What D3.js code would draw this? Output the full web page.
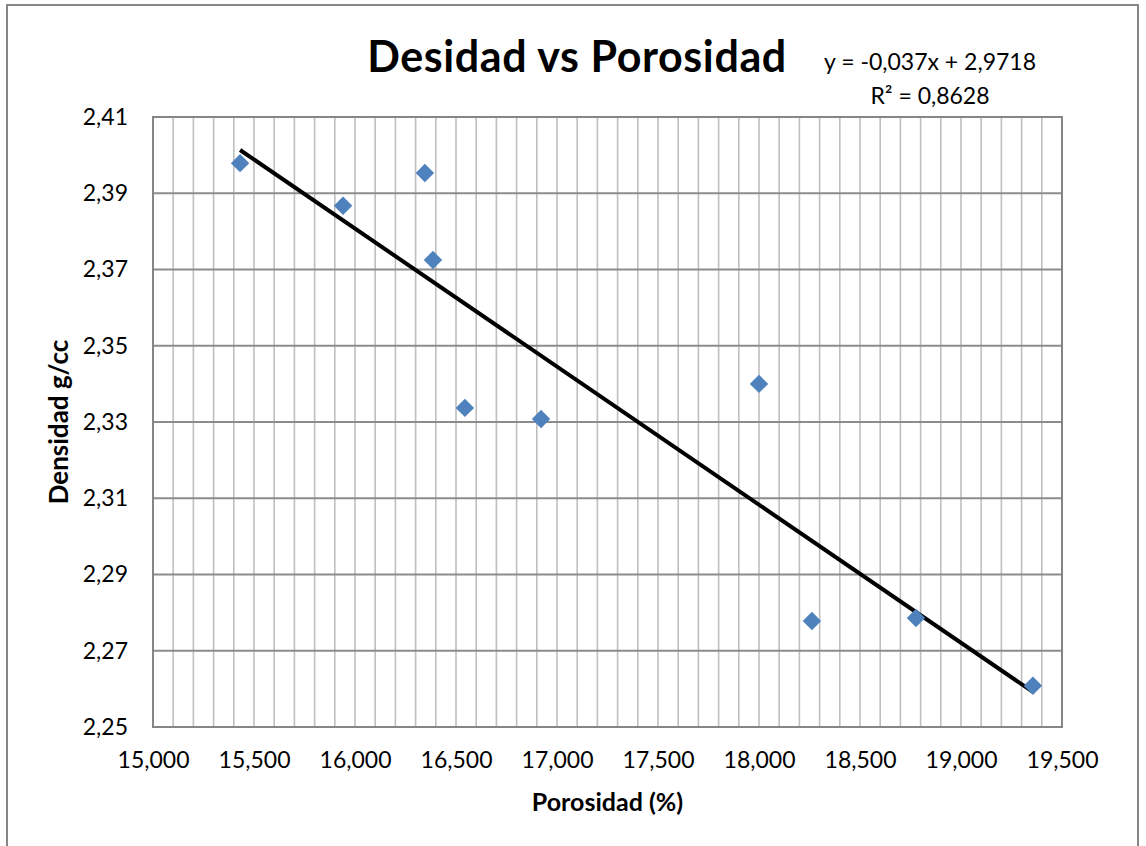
<!DOCTYPE html>
<html>
<head>
<meta charset="utf-8">
<script src="https://cdn.jsdelivr.net/npm/d3@7"></script>
<style>
  body { margin: 0; background: #fff; }
  svg { display: block; font-family: Lato, 'Open Sans', sans-serif; }
</style>
</head>
<body>
<svg id="container"></svg>
<script>
// porosidad (x) y densidad (y)
const porosidad = [15.431, 15.941, 16.346, 16.386, 16.544, 16.921, 18.0, 18.262, 18.777, 19.356]
const densidad = [2.3979, 2.3867, 2.3953, 2.3725, 2.3337, 2.3308, 2.340, 2.2778, 2.2786, 2.2608]

const xTicks = [15.0, 15.5, 16.0, 16.5, 17.0, 17.5, 18.0, 18.5, 19.0, 19.5]
const yTicks = [2.25, 2.27, 2.29, 2.31, 2.33, 2.35, 2.37, 2.39, 2.41]
const eqLines = ['y = -0,037x + 2,9718', 'R² = 0,8628']

const title = 'Desidad vs Porosidad'
const xTitle = 'Porosidad (%)'
const yTitle = 'Densidad g/cc'

const W = 1146,
  H = 846
const margin = { top: 117, right: 84, bottom: 119, left: 153 },
  w = W - margin.left - margin.right,
  h = H - margin.top - margin.bottom

const loc = d3.formatLocale({ decimal: ',', thousands: '.', grouping: [3], currency: ['', ''] })
const fx = loc.format('.3f'),
  fy = loc.format('.2f')

let root = d3.select('#container').attr('width', W).attr('height', H)

// marco exterior
root
  .append('rect')
  .attr('x', 7)
  .attr('y', 5)
  .attr('width', 1131)
  .attr('height', 880)
  .attr('fill', 'none')
  .attr('stroke', '#868686')
  .attr('stroke-width', 2)

let svg = root.append('g').attr('transform', `translate(${margin.left},${margin.top})`)

let xScale = d3.scaleLinear().domain([15.0, 19.5]).range([0, w])
let yScale = d3.scaleLinear().domain([2.25, 2.41]).range([h, 0])

// rejilla vertical menor cada 0,1
let minor = d3.range(151, 195).map((d) => d / 10)
svg
  .selectAll('.vgrid')
  .data(minor)
  .enter()
  .append('line')
  .attr('class', 'vgrid')
  .attr('x1', (d) => xScale(d))
  .attr('x2', (d) => xScale(d))
  .attr('y1', 0)
  .attr('y2', h)
  .attr('stroke', '#bfbfbf')
  .attr('stroke-width', 1.6)

// rejilla horizontal
svg
  .selectAll('.hgrid')
  .data(yTicks.slice(1, -1))
  .enter()
  .append('line')
  .attr('class', 'hgrid')
  .attr('x1', 0)
  .attr('x2', w)
  .attr('y1', (d) => yScale(d))
  .attr('y2', (d) => yScale(d))
  .attr('stroke', '#8c8c8c')
  .attr('stroke-width', 1.8)

svg
  .append('rect')
  .attr('width', w)
  .attr('height', h)
  .attr('fill', 'none')
  .attr('stroke', '#868686')
  .attr('stroke-width', 2)

let xAxis = d3.axisBottom(xScale).tickValues(xTicks).tickFormat(fx).tickSize(0).tickPadding(25)
let gX = svg.append('g').attr('transform', `translate(0,${h})`).call(xAxis)
gX.select('.domain').remove()
gX.selectAll('text').attr('font-size', 23).attr('fill', '#000').attr('font-family', 'Lato')

let yAxis = d3.axisLeft(yScale).tickValues(yTicks).tickFormat(fy).tickSize(0).tickPadding(25)
let gY = svg.append('g').call(yAxis)
gY.select('.domain').remove()
gY.selectAll('text').attr('font-size', 23).attr('fill', '#000').attr('font-family', 'Lato')

// linea de tendencia por minimos cuadrados
let mx = d3.mean(porosidad),
  my = d3.mean(densidad)
let sxy = d3.sum(porosidad, (x, i) => (x - mx) * (densidad[i] - my))
let sxx = d3.sum(porosidad, (x) => (x - mx) * (x - mx))
let slope = sxy / sxx,
  icpt = my - slope * mx
let ext = d3.extent(porosidad)

svg
  .append('path')
  .datum(ext)
  .attr('fill', 'none')
  .attr('stroke', '#000')
  .attr('stroke-width', 4)
  .attr(
    'd',
    d3
      .line()
      .x((d) => xScale(d))
      .y((d) => yScale(slope * d + icpt))
  )

// puntos (rombos)
let pts = porosidad.map((x, i) => ({ x: x, y: densidad[i] }))
svg
  .selectAll('.pt')
  .data(pts)
  .enter()
  .append('path')
  .attr('class', 'pt')
  .attr('d', d3.symbol(d3.symbolSquare, 170))
  .attr('transform', (d) => `translate(${xScale(d.x)},${yScale(d.y)}) rotate(45)`)
  .attr('fill', '#4f81bd')

// titulos
root
  .append('text')
  .attr('x', 577)
  .attr('y', 72)
  .attr('text-anchor', 'middle')
  .attr('font-size', 43)
  .attr('letter-spacing', 0.6)
  .attr('font-weight', 'bold')
  .text(title)

root
  .selectAll('.eq')
  .data(eqLines)
  .enter()
  .append('text')
  .attr('class', 'eq')
  .attr('x', 930)
  .attr('y', (d, i) => 70 + i * 34)
  .attr('text-anchor', 'middle')
  .attr('font-size', 23)
  .text((d) => d)

root
  .append('text')
  .attr('x', margin.left + w / 2)
  .attr('y', 811)
  .attr('text-anchor', 'middle')
  .attr('font-size', 25)
  .attr('font-weight', 'bold')
  .text(xTitle)

root
  .append('text')
  .attr('transform', `translate(68,${margin.top + h / 2}) rotate(-90)`)
  .attr('text-anchor', 'middle')
  .attr('font-size', 26)
  .attr('font-weight', 'bold')
  .text(yTitle)
</script>
</body>
</html>
